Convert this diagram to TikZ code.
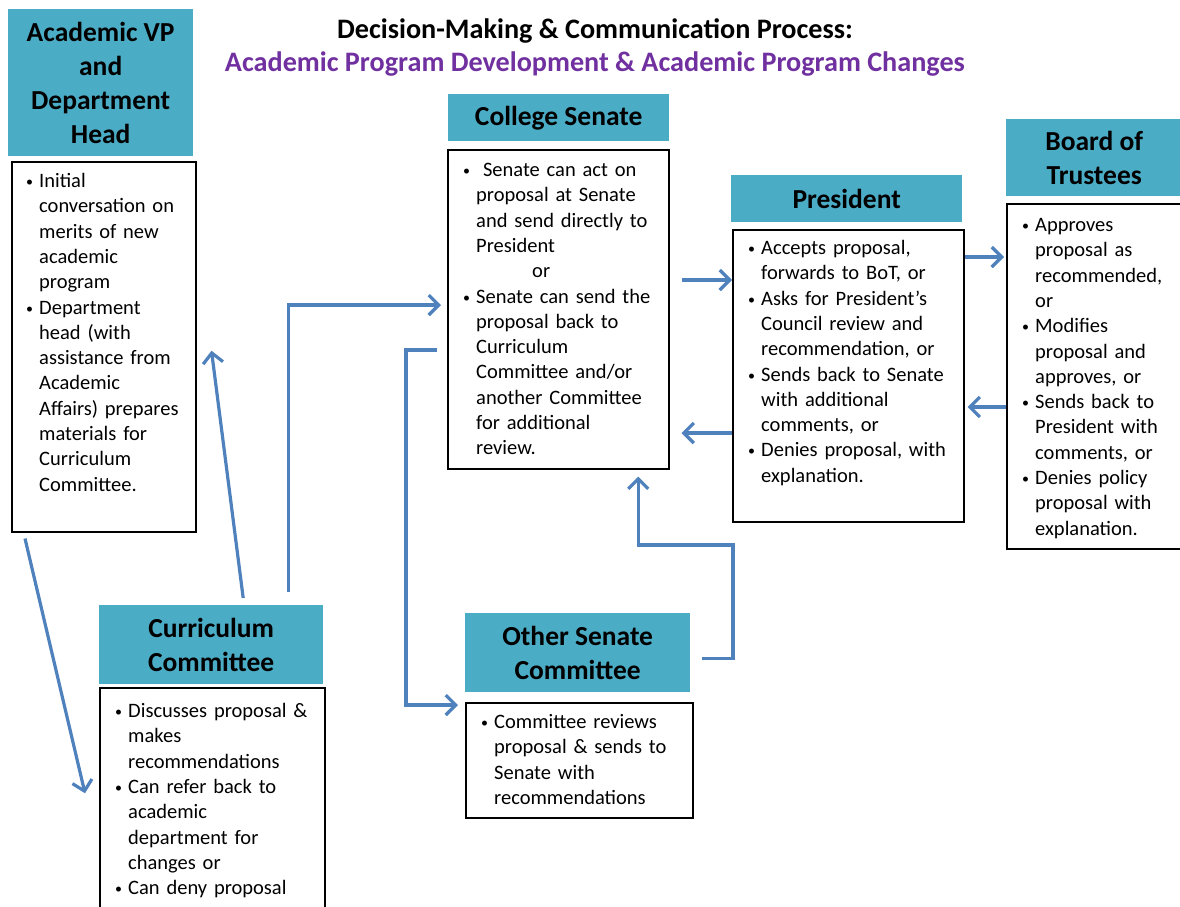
\documentclass[tikz,border=0pt]{standalone}
\usepackage{fontspec}
\setmainfont{Carlito}
\usetikzlibrary{calc,positioning,arrows.meta}
\definecolor{hdrteal}{HTML}{4BACC6}
\definecolor{flowblue}{HTML}{4F81BD}
\definecolor{titlepurple}{HTML}{7030A0}
\newcommand{\bodyfont}{\fontsize{20.5}{25.3}\selectfont}
\newcommand{\hdrfont}{\fontsize{27.5}{34}\selectfont\bfseries}
\newcommand{\titlefont}{\fontsize{28.2}{33}\selectfont\bfseries}
\newcommand{\bul}[1]{\par\noindent\hangindent=14pt\hangafter=1\strut
  \makebox[14pt][l]{\hspace*{1pt}\raisebox{1pt}{\fontsize{14}{14}\selectfont\textbullet}}#1\par}
\tikzset{
  hdr/.style={fill=hdrteal, anchor=north west, inner sep=0pt, align=center, font=\hdrfont},
  bodybox/.style={draw=black, line width=1.5pt, anchor=north west, inner sep=0pt},
  bodytext/.style={anchor=north west, inner sep=0pt, align=left, text width=215pt, font=\bodyfont},
  flow/.style={draw=flowblue, line width=3.2pt, -{Straight Barb[length=10pt,width=20pt]}}
}
\begin{document}
\begin{tikzpicture}[x=1pt,y=-1pt]
        \useasboundingbox (0,0) rectangle (1180,906);
        \node[font=\titlefont, align=center] (title) at (595,47)
          {Decision-Making \& Communication Process:\\
           \textcolor{titlepurple}{Academic Program Development \& Academic Program Changes}};
        % headers
        \node[hdr, minimum width=185, minimum height=147] (vp-h) at (8,9) {Academic VP\\and\\Department\\Head};
        \node[hdr, minimum width=221, minimum height=47] (cs-h) at (448,94) {College Senate};
        \node[hdr, minimum width=231, minimum height=47] (pr-h) at (731,175) {President};
        \node[hdr, minimum width=176, minimum height=77] (bot-h) at (1006,119) {Board of\\Trustees};
        \node[hdr, minimum width=224, minimum height=79] (cc-h) at (99,605) {Curriculum\\Committee};
        \node[hdr, minimum width=225, minimum height=79] (os-h) at (465,613) {Other Senate\\Committee};
        % boxes
        \node[bodybox, minimum width=184, minimum height=370] (vp) at (11,161) {};
        \node[bodybox, minimum width=221, minimum height=319] (cs) at (447,149) {};
        \node[bodybox, minimum width=231, minimum height=292] (pr) at (732,229) {};
        \node[bodybox, minimum width=180, minimum height=345] (bot) at (1006,203) {};
        \node[bodybox, minimum width=225, minimum height=225] (cc) at (99,687) {};
        \node[bodybox, minimum width=227, minimum height=115] (os) at (465,702) {};
        % texts
        \node[bodytext] (vp-t) at ($(vp.north west)+(14,1)$) {%
          \bul{Initial\newline conversation on\newline merits of new\newline academic\newline program}%
          \bul{Department\newline head (with\newline assistance from\newline Academic\newline Affairs) prepares\newline materials for\newline Curriculum\newline Committee.}};
        \node[bodytext] (cs-t) at ($(cs.north west)+(15,2)$) {%
          \bul{\ Senate can act on\newline proposal at Senate\newline and send directly to\newline President}%
          \noindent\strut\hspace*{70pt}or\par
          \bul{Senate can send the\newline proposal back to\newline Curriculum\newline Committee and/or\newline another Committee\newline for additional\newline review.}};
        \node[bodytext] (pr-t) at ($(pr.north west)+(15,0)$) {%
          \bul{Accepts proposal,\newline forwards to BoT, or}%
          \bul{Asks for President’s\newline Council review and\newline recommendation, or}%
          \bul{Sends back to Senate\newline with additional\newline comments, or}%
          \bul{Denies proposal, with\newline explanation.}};
        \node[bodytext] (bot-t) at ($(bot.north west)+(15,3)$) {%
          \bul{Approves\newline proposal as\newline recommended,\newline or}%
          \bul{Modifies\newline proposal and\newline approves, or}%
          \bul{Sends back to\newline President with\newline comments, or}%
          \bul{Denies policy\newline proposal with\newline explanation.}};
        \node[bodytext] (cc-t) at ($(cc.north west)+(15,5)$) {%
          \bul{Discusses proposal \&\newline makes\newline recommendations}%
          \bul{Can refer back to\newline academic\newline department for\newline changes or}%
          \bul{Can deny proposal}};
        \node[bodytext] (os-t) at ($(os.north west)+(15,1)$) {%
          \bul{Committee reviews\newline proposal \& sends to\newline Senate with\newline recommendations}};
        % connectors
        \draw[flow] ($(cs.east |- 0,280)+(12,0)$) -- (pr.west |- 0,280);
        \draw[flow] (pr.east |- 0,257) -- ($(bot.west |- 0,257)+(-2,0)$);
        \draw[flow] (bot.west |- 0,407) -- ($(pr.east |- 0,407)+(3,0)$);
        \draw[flow] (pr.west |- 0,433) -- ($(cs.east |- 0,433)+(12,0)$);
        \draw[flow] ($(vp.south west)+(14,6)$) -- ($(cc.west)+(-14,-7)$);
        \draw[flow] ($(cc-h.north)+(32,-7)$) -- ($(vp.east)+(15,4)$);
        \draw[flow] ($(cc-h.north)+(77,-13)$) |- ($(cs.west |- 0,305)+(-6,0)$);
        \draw[flow] ($(cs.west |- 0,350)+(-10,0)$) -| ($(os.west |- 0,705)+(-59,0)$)
          -- ($(os.west |- 0,705)+(-7,0)$);
        \draw[flow] ($(os-h.east)+(12,6)$) -| (733,545) -| ($(cs.south)+(80,7)$);
\end{tikzpicture}
\end{document}
